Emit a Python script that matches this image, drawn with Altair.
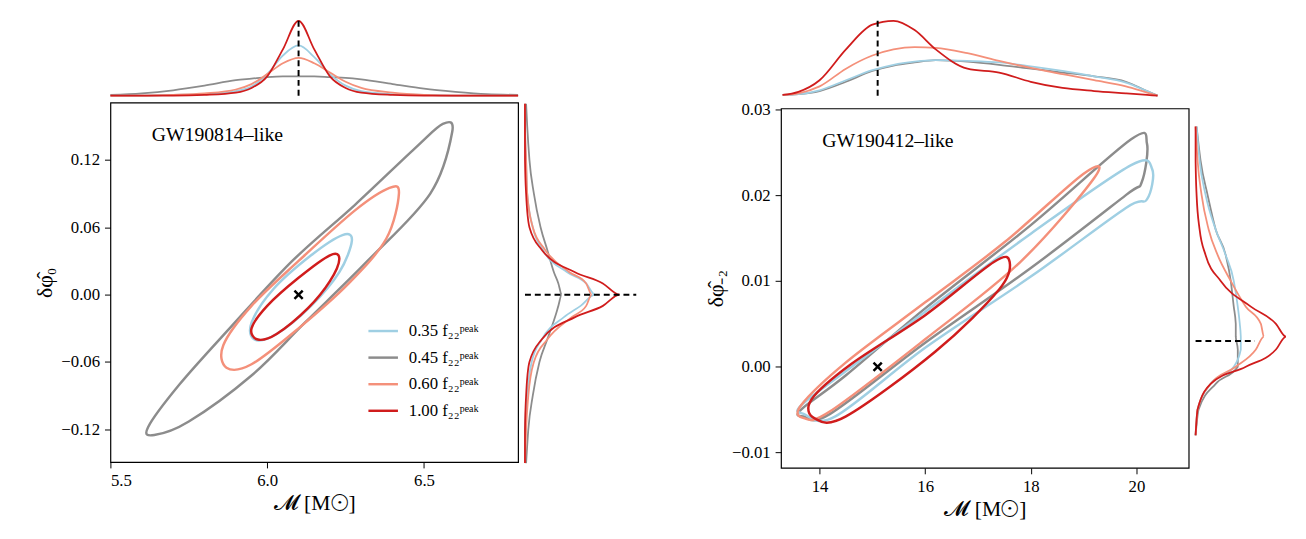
import altair as alt
import pandas as pd

FONT = "Liberation Serif"
COLORS = ["#9fcfe3", "#8c8c8c", "#f4907a", "#d01c1c"]
LABELS = ["0.35 f₂₂ᵖᵉᵃᵏ", "0.45 f₂₂ᵖᵉᵃᵏ", "0.60 f₂₂ᵖᵉᵃᵏ", "1.00 f₂₂ᵖᵉᵃᵏ"]

# ---- GW190814-like ----
contours_l = {
    LABELS[1]: [(5.64, -0.125), (5.75, -0.113), (5.95, -0.072), (6.12, -0.025), (6.32, 0.03),
                (6.52, 0.09), (6.59, 0.145), (6.56, 0.152), (6.47, 0.13), (6.28, 0.08),
                (6.08, 0.03), (5.88, -0.03), (5.72, -0.08), (5.62, -0.118)],
    LABELS[2]: [(5.87, -0.065), (5.95, -0.062), (6.1, -0.03), (6.26, 0.01), (6.38, 0.05),
                (6.42, 0.09), (6.39, 0.095), (6.28, 0.075), (6.1, 0.03), (5.95, -0.01), (5.86, -0.045)],
    LABELS[0]: [(5.96, -0.04), (6.03, -0.035), (6.14, -0.01), (6.23, 0.02), (6.27, 0.048),
                (6.24, 0.053), (6.14, 0.035), (6.02, 0.005), (5.95, -0.025)],
    LABELS[3]: [(5.97, -0.04), (6.03, -0.035), (6.13, -0.012), (6.2, 0.012), (6.23, 0.032),
                (6.2, 0.035), (6.1, 0.015), (6.0, -0.01), (5.95, -0.03)],
}
top_x_l = [5.5, 5.6, 5.7, 5.8, 5.9, 5.95, 6.0, 6.05, 6.1, 6.15, 6.2, 6.25, 6.3, 6.4, 6.5, 6.6, 6.7, 6.8]
top_l = {
    LABELS[1]: [0.01, 0.03, 0.07, 0.13, 0.2, 0.22, 0.24, 0.25, 0.25, 0.25, 0.24, 0.23, 0.21, 0.15, 0.09, 0.05, 0.02, 0.01],
    LABELS[0]: [0, 0, 0.01, 0.02, 0.06, 0.12, 0.28, 0.52, 0.65, 0.5, 0.28, 0.13, 0.06, 0.02, 0.01, 0, 0, 0],
    LABELS[2]: [0, 0, 0.01, 0.03, 0.08, 0.15, 0.28, 0.42, 0.49, 0.42, 0.3, 0.18, 0.1, 0.04, 0.01, 0, 0, 0],
    LABELS[3]: [0, 0, 0, 0.01, 0.04, 0.1, 0.25, 0.6, 0.97, 0.6, 0.25, 0.1, 0.04, 0.01, 0, 0, 0, 0],
}
side_y_l = [-0.15, -0.12, -0.09, -0.06, -0.04, -0.02, -0.01, 0, 0.01, 0.02, 0.04, 0.06, 0.09, 0.12, 0.15, 0.17]
side_l = {
    LABELS[1]: [0.01, 0.03, 0.07, 0.13, 0.2, 0.27, 0.3, 0.33, 0.3, 0.26, 0.2, 0.14, 0.08, 0.04, 0.02, 0.01],
    LABELS[0]: [0, 0, 0.02, 0.06, 0.15, 0.35, 0.5, 0.63, 0.55, 0.38, 0.16, 0.07, 0.02, 0.01, 0, 0],
    LABELS[2]: [0, 0.01, 0.03, 0.08, 0.2, 0.42, 0.55, 0.6, 0.55, 0.4, 0.18, 0.07, 0.02, 0.01, 0, 0],
    LABELS[3]: [0, 0, 0.01, 0.04, 0.15, 0.45, 0.7, 0.85, 0.7, 0.45, 0.15, 0.04, 0.01, 0, 0, 0],
}

# ---- GW190412-like ----
contours_r = {
    LABELS[1]: [(13.7, -0.0058), (14.2, -0.0055), (16, 0.0028), (18, 0.0115), (19.8, 0.02), (20.1, 0.0215),
                (20.2, 0.026), (19.9, 0.0265), (18, 0.0165), (16, 0.0068), (14.5, -0.001), (13.65, -0.005)],
    LABELS[0]: [(13.7, -0.0055), (14.3, -0.0058), (16, 0.0022), (18, 0.0105), (19.8, 0.0185), (20.2, 0.0195),
                (20.3, 0.023), (19.9, 0.0235), (18, 0.0155), (16, 0.0064), (14.5, -0.0005), (13.65, -0.0045)],
    LABELS[2]: [(13.7, -0.006), (14.2, -0.0052), (16, 0.0032), (17.8, 0.0122), (19.2, 0.022),
                (19.0, 0.0225), (17.5, 0.0145), (16, 0.0075), (14.5, 0.0005), (13.65, -0.0045)],
    LABELS[3]: [(13.9, -0.006), (14.5, -0.0058), (16.2, 0.0018), (17.4, 0.009), (17.6, 0.0122),
                (17.3, 0.0122), (16, 0.006), (14.6, 0.0003), (13.85, -0.0038)],
}
top_x_r = [13.3, 13.6, 14.0, 14.5, 15.0, 15.4, 15.8, 16.2, 16.8, 17.4, 18.0, 18.6, 19.2, 19.8, 20.2, 20.4]
top_r = {
    LABELS[1]: [0.01, 0.02, 0.06, 0.18, 0.32, 0.39, 0.43, 0.46, 0.44, 0.4, 0.35, 0.3, 0.25, 0.18, 0.06, 0],
    LABELS[0]: [0.01, 0.02, 0.07, 0.2, 0.33, 0.4, 0.44, 0.46, 0.45, 0.43, 0.38, 0.32, 0.25, 0.17, 0.06, 0],
    LABELS[2]: [0.01, 0.03, 0.12, 0.35, 0.52, 0.6, 0.63, 0.62, 0.55, 0.45, 0.36, 0.28, 0.2, 0.12, 0.04, 0],
    LABELS[3]: [0.01, 0.05, 0.2, 0.6, 0.92, 0.97, 0.85, 0.6, 0.35, 0.3, 0.18, 0.1, 0.06, 0.03, 0.01, 0],
}
side_y_r = [-0.008, -0.005, -0.002, 0, 0.002, 0.0035, 0.005, 0.007, 0.01, 0.013, 0.016, 0.02, 0.024, 0.028]
side_r = {
    LABELS[1]: [0, 0.03, 0.2, 0.42, 0.42, 0.4, 0.4, 0.38, 0.35, 0.3, 0.2, 0.12, 0.05, 0.01],
    LABELS[0]: [0, 0.02, 0.15, 0.38, 0.45, 0.45, 0.44, 0.42, 0.38, 0.3, 0.2, 0.1, 0.04, 0.01],
    LABELS[2]: [0, 0.02, 0.15, 0.4, 0.6, 0.68, 0.65, 0.5, 0.35, 0.22, 0.13, 0.06, 0.02, 0],
    LABELS[3]: [0, 0.02, 0.15, 0.5, 0.8, 0.9, 0.8, 0.55, 0.25, 0.1, 0.04, 0.01, 0, 0],
}

W, H, TOPH = 414, 365, 80


def cscale():
    return alt.Scale(domain=LABELS, range=COLORS)


def panel(contours, top_x, top, side_y, side, xdom, ydom, xticks, yticks,
          truth, label, ytitle, side_w, side_dom, show_legend, widest, xfmt):
    rows = []
    for s, pts in contours.items():
        for i, (x, y) in enumerate(pts):
            rows.append(dict(s=s, x=x, y=y, o=i))
    cdf = pd.DataFrame(rows)
    xs = alt.Scale(domain=xdom, nice=False, zero=False)
    ys = alt.Scale(domain=ydom, nice=False, zero=False)
    lines = alt.Chart(cdf).mark_line(interpolate="cardinal-closed", strokeWidth=2.5).encode(
        x=alt.X("x:Q", scale=xs, axis=alt.Axis(values=xticks, format=xfmt, title="𝓜 [M☉]",
                                               tickSize=6, labelPadding=5)),
        y=alt.Y("y:Q", scale=ys, axis=alt.Axis(values=yticks, format=".2f", title=ytitle,
                                               tickSize=6, labelPadding=5)),
        color=alt.Color("s:N", scale=cscale(), legend=None),
        order="o:Q",
    )
    tdf = pd.DataFrame(dict(x=[truth[0]], y=[truth[1]]))
    cross = alt.Chart(tdf).mark_point(shape="M-1,-1L1,1M1,-1L-1,1", filled=False, color="black",
                                      strokeWidth=2.5, size=70, opacity=1).encode(x="x:Q", y="y:Q")
    ldf = pd.DataFrame(dict(t=[label]))
    txt = alt.Chart(ldf).mark_text(font=FONT, fontSize=20, align="left", baseline="middle").encode(
        text="t:N", x=alt.value(42), y=alt.value(33))
    layers = [lines, cross, txt]
    if show_legend:
        legdf = pd.DataFrame(dict(s=LABELS))
        for i, lab in enumerate(LABELS):
            base = alt.Chart(legdf).transform_filter(alt.datum.s == lab)
            layers.append(base.mark_rule(strokeWidth=2.5, color=COLORS[i]).encode(
                y=alt.value(232 + 27 * i), x=alt.value(262), x2=alt.value(292)))
            layers.append(base.mark_text(font=FONT, fontSize=17, align="left", baseline="middle").encode(
                y=alt.value(232 + 27 * i), x=alt.value(303), text="s:N"))
    main = alt.layer(*layers).properties(width=W, height=H)

    trows = [dict(s=s, x=x, d=d) for s, v in top.items() for x, d in zip(top_x, v)]
    tsc = alt.Scale(domain=[0, 1.02], nice=False)
    topc = alt.Chart(pd.DataFrame(trows)).mark_line(strokeWidth=1.8, interpolate="monotone").encode(
        x=alt.X("x:Q", scale=xs, axis=None),
        y=alt.Y("d:Q", scale=tsc, axis=alt.Axis(values=[0.5], labelExpr=f"'{widest}'", labelColor="#ffffff00",
                                                 title=ytitle, titleColor="#ffffff00", domain=False,
                                                 ticks=False, labelPadding=11)),
        color=alt.Color("s:N", scale=cscale(), legend=None),
    )
    tdash = alt.Chart(pd.DataFrame(dict(x=[truth[0]], a=[0.0], b=[max(top[LABELS[3]]) + 0.02]))).mark_rule(
        strokeDash=[6, 4], strokeWidth=2, color="black").encode(x="x:Q", y="a:Q", y2="b:Q")
    topp = alt.layer(topc, tdash).properties(width=W, height=TOPH, view=alt.ViewConfig(stroke=None))

    srows = [dict(s=s, y=y, d=d) for s, v in side.items() for y, d in zip(side_y, v)]
    ssc = alt.Scale(domain=side_dom, nice=False)
    sidec = alt.Chart(pd.DataFrame(srows)).mark_line(strokeWidth=1.8, interpolate="monotone").encode(
        y=alt.Y("y:Q", scale=ys, axis=None),
        x=alt.X("d:Q", scale=ssc, axis=None),
        color=alt.Color("s:N", scale=cscale(), legend=None),
        order="y:Q",
    )
    sdash = alt.Chart(pd.DataFrame(dict(y=[truth[2]], a=[0.0], b=[truth[3]]))).mark_rule(
        strokeDash=[6, 4], strokeWidth=2, color="black").encode(y="y:Q", x="a:Q", x2="b:Q")
    sidep = alt.layer(sidec, sdash).properties(width=side_w, height=H, view=alt.ViewConfig(stroke=None))

    bottom = alt.hconcat(main, sidep, spacing=2)
    return alt.vconcat(topp, bottom, spacing=0)


left = panel(contours_l, top_x_l, top_l, side_y_l, side_l, [5.5, 6.8], [-0.149, 0.171],
             [5.5, 6.0, 6.5], [-0.12, -0.06, 0.0, 0.06, 0.12],
             (6.1, 0.0, 0.0, 1.0), "GW190814–like", "δφ̂₀", 113, [0, 1.0], True, "−0.12", ".1f")
right = panel(contours_r, top_x_r, top_r, side_y_r, side_r, [13.27, 20.99], [-0.0118, 0.0301],
              [14, 16, 18, 20], [-0.01, 0.0, 0.01, 0.02, 0.03],
              (15.1, 0.0, 0.003, 0.59), "GW190412–like", "δφ̂₋₂", 102, [0, 1.0], False, "−0.01", "d")

chart = alt.hconcat(left, right, spacing=68).properties(
    padding={"left": 26, "top": 5, "right": 2, "bottom": 5}).configure_view(
    stroke="black", strokeWidth=1.2).configure_axis(
    labelFont=FONT, titleFont=FONT, labelFontSize=17, titleFontSize=22, labelColor="black",
    titleColor="black", grid=False, domain=False, titleFontWeight="normal", tickColor="black")

chart.save("out.html", embed_options={"renderer": "svg", "actions": False})
